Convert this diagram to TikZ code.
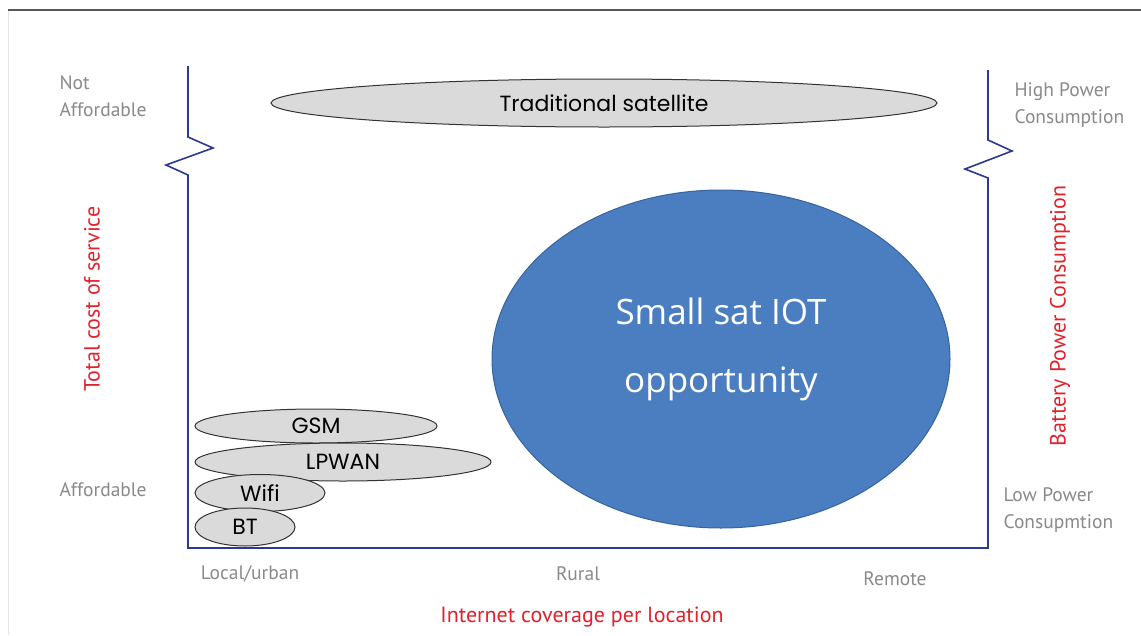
\documentclass[tikz,border=0pt]{standalone}
\usepackage{fontspec}
\setmainfont{PT Sans}
\newfontfamily\geofont{Poppins}
\newfontfamily\opfont{Open Sans}
\usetikzlibrary{shapes.geometric}

\definecolor{axisblue}{HTML}{2B3990}
\definecolor{satblue}{HTML}{4A7EC0}
\definecolor{satedge}{HTML}{35659E}
\definecolor{labred}{HTML}{E0222B}
\definecolor{labgrey}{HTML}{8A8A8A}
\definecolor{techgrey}{HTML}{DADADA}

\tikzset{
  axisline/.style={axisblue, line width=1.6pt, line join=miter},
  tech/.style={ellipse, draw=black!80, fill=techgrey, line width=1pt, inner sep=0pt, font=\geofont\fontsize{22}{24}\selectfont},
  ticklab/.style={labgrey, font=\fontsize{19.5}{27}\selectfont, align=left},
  axislab/.style={labred, font=\fontsize{22}{26}\selectfont}
}

\begin{document}
\begin{tikzpicture}[x=1pt, y=-1pt]
	\useasboundingbox (0,0) rectangle (1141,635);
	\fill[white] (0,0) rectangle (1141,635);
	\draw[black!65, line width=1.8pt] (8,10) -- (1141,10);
	\draw[black!10, line width=0.8pt] (8,11) -- (8,635);
	
	% axes with the breaks
	\coordinate (ltop) at (188,66);
	\coordinate (orig) at (188,548);
	\coordinate (rbot) at (988,548);
	\coordinate (rtop) at (988,70);
	\draw[axisline] (ltop) -- (188,137) -- (213,148) -- (166,165) -- (188,175) -- (orig) -- (rbot)
		-- (988,178) -- (965,169) -- (1012,151) -- (988,140) -- (rtop);
	
	% technologies
	\node[tech, minimum width=666, minimum height=48] (trad) at (604,103) {Traditional satellite};
	\node[tech, minimum width=242, minimum height=34] (gsm) at (316,426) {GSM};
	\node[tech, minimum width=296, minimum height=38] (lpwan) at (343,462) {LPWAN};
	\node[tech, minimum width=130, minimum height=37] (wifi) at (260,493) {Wifi};
	\node[tech, minimum width=100, minimum height=38] (bt) at (245,527) {BT};
	
	\node[ellipse, draw=satedge, fill=satblue, line width=1pt, minimum width=458, minimum height=338, inner sep=0pt] (iot) at (721,359) {};
	\node[white, font=\opfont\fontsize{35}{40}\selectfont] (iottop) at (721,311) {Small sat IOT};
	\node[white, font=\opfont\fontsize{35}{40}\selectfont] (iotbot) at (721,384) {opportunity};
	
	% grey tick labels
	\node[ticklab, anchor=west] (notaff) at (56,96) {Not\\Affordable};
	\node[ticklab, anchor=west] (aff) at (56,490) {Affordable};
	\node[ticklab, anchor=west] (highp) at (1011,105) {High Power\\Consumption};
	\node[ticklab, anchor=west] (lowp) at (1000,510) {Low Power\\Consupmtion};
	\node[ticklab] (local) at (250,574) {Local/urban};
	\node[ticklab] (rural) at (578,574) {Rural};
	\node[ticklab] (remote) at (895,579) {Remote};
	
	% red axis titles
	\node[axislab, rotate=90] (cost) at (92,299) {Total cost of service};
	\node[axislab, rotate=90] (battery) at (1060,316) {Battery Power Consumption};
	\node[axislab] (coverage) at (582,617) {Internet coverage per location};
\end{tikzpicture}
\end{document}
